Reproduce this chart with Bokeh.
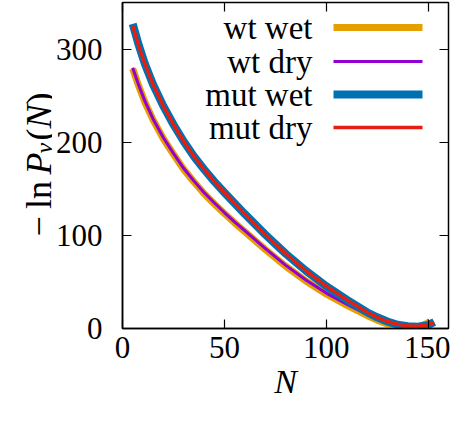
from bokeh.plotting import figure
from bokeh.layouts import row
from bokeh.models import Range1d, FixedTicker, LinearAxis, Label, Arrow
from bokeh.embed import file_html
from bokeh.resources import INLINE
import math

# ---- data ----
N_wt = [5, 8, 11, 15, 20, 25, 30, 35, 40, 45, 50, 55, 60, 70, 80, 90, 100, 110, 120, 125, 130, 135, 140, 145, 150, 151]
wt_wet = [279, 260, 243, 224, 204, 187, 171, 157.5, 145, 134, 123.5, 113.5, 104, 85, 67, 51, 37, 25, 14, 9, 5, 2, 0.5, 1.5, 6, 8]
wt_dry = [280, 261, 244, 225, 205, 188, 172, 158.5, 146, 135, 124.5, 114.5, 105, 86, 68, 52, 38, 26, 15, 10, 6, 3, 1.5, 1.5, 4, 5]

N_mut = [5, 8, 11, 15, 20, 25, 30, 35, 40, 45, 50, 55, 60, 70, 80, 90, 100, 110, 120, 125, 130, 135, 140, 145, 150, 153]
mut_wet = [327, 304, 284, 262, 239, 219, 201, 185, 171, 158, 146, 134.5, 123, 101, 80.5, 62, 45.5, 31, 17.5, 12, 7.5, 4, 2.5, 2, 3.5, 7]
mut_dry = [325, 303, 284, 262, 239, 219, 201, 185, 171, 158, 146, 134.5, 123, 101, 80.5, 62, 45.5, 31, 17.5, 12, 7.5, 4.5, 3, 2.5, 4, 6.5]

x_ticks = [0, 50, 100, 150]
y_ticks = [0, 100, 200, 300]

names = ["wt wet", "wt dry", "mut wet", "mut dry"]
colors = ["#E69F00", "#9400D3", "#0072B2", "#E51E10"]
widths = [7, 3, 8, 3.5]

# y-axis label  "− ln P_v(N)"  built from pieces
ylab_text = ["\u2212", "ln", "P", "v", "(", "N", ")"]
ylab_style = ["normal", "normal", "italic", "italic", "normal", "italic", "normal"]
ylab_size = ["36px", "36px", "36px", "24px", "36px", "36px", "36px"]
ylab_pos = [92, 119.5, 154, 175, 188, 200, 224]   # along the label, px above frame bottom
ylab_base = [38, 38, 38, 43, 38, 38, 38]          # baseline, px from left edge

FONT = "Liberation Serif"
H = 407
LW = 52
FB = 79      # bottom border of the plot
FT = 2       # top border of the plot

# ---- narrow panel holding the rotated y label (its frame is aligned with the plot's) ----
yl = figure(width=LW, height=H, output_backend="svg", toolbar_location=None,
            x_range=Range1d(0, LW), y_range=Range1d(0, H - FB - FT), min_border=0,
            x_axis_location=None, y_axis_location=None,
            background_fill_color="white", border_fill_color="white")
yl.grid.visible = False
yl.outline_line_color = None
for t, st, sz, pos, base in zip(ylab_text, ylab_style, ylab_size, ylab_pos, ylab_base):
    yl.add_layout(Label(x=base, y=pos, text=t, angle=math.pi / 2,
                        text_font=FONT, text_font_style=st, text_font_size=sz,
                        text_align="left", text_baseline="alphabetic", text_color="black"))

# ---- main plot ----
p = figure(width=450 - LW, height=H, output_backend="svg", toolbar_location=None,
           x_range=Range1d(0, 160), y_range=Range1d(0, 350),
           min_border_left=122 - LW, min_border_right=2, min_border_top=FT, min_border_bottom=FB,
           background_fill_color="white", border_fill_color="white")
p.grid.visible = False
p.outline_line_color = "black"
p.outline_line_width = 1.5

for ax, ticks in ((p.xaxis[0], x_ticks), (p.yaxis[0], y_ticks)):
    ax.ticker = FixedTicker(ticks=ticks)
    ax.major_tick_in = 9
    ax.major_tick_out = 0
    ax.minor_tick_line_color = None
    ax.major_tick_line_color = "black"
    ax.major_tick_line_width = 1.2
    ax.axis_line_color = "black"
    ax.axis_line_width = 1.5
    ax.major_label_text_font = FONT
    ax.major_label_text_font_size = "31px"
    ax.major_label_text_color = "black"
p.xaxis[0].major_label_standoff = 8
p.yaxis[0].major_label_standoff = 20
p.xaxis[0].axis_label = "N"
p.xaxis[0].axis_label_text_font = FONT
p.xaxis[0].axis_label_text_font_style = "italic"
p.xaxis[0].axis_label_text_font_size = "34px"
p.xaxis[0].axis_label_text_color = "black"
p.xaxis[0].axis_label_standoff = 2

# mirrored ticks on top and right (no labels)
top = LinearAxis(ticker=FixedTicker(ticks=x_ticks), major_tick_in=9, major_tick_out=0,
                 minor_tick_line_color=None, major_label_text_font_size="0px",
                 major_label_text_color=None,
                 major_label_standoff=0, axis_line_color=None, major_tick_line_width=1.2)
right = LinearAxis(ticker=FixedTicker(ticks=y_ticks), major_tick_in=9, major_tick_out=0,
                   minor_tick_line_color=None, major_label_text_font_size="0px",
                   major_label_text_color=None,
                   major_label_standoff=0, axis_line_color=None, major_tick_line_width=1.2)
p.add_layout(top, "above")
p.add_layout(right, "right")

series = [(N_wt, wt_wet), (N_wt, wt_dry), (N_mut, mut_wet), (N_mut, mut_dry)]
for (xs, ys), c, w in zip(series, colors, widths):
    p.line(xs, ys, line_color=c, line_width=w, line_join="round")

# legend (gnuplot style: label then sample), positions relative to the frame
row_y = [301, 267, 234, 201]
for name, c, w, yy in zip(names, colors, widths, row_y):
    p.add_layout(Label(x=190, y=yy, x_units="screen", y_units="screen", text=name,
                       text_font=FONT, text_font_size="33px", text_align="right",
                       text_baseline="middle", text_color="black"))
    p.add_layout(Arrow(end=None, x_start=211, y_start=yy, x_end=300, y_end=yy,
                       start_units="screen", end_units="screen",
                       line_color=c, line_width=w))

layout = row(yl, p, spacing=0)
open("out.html", "w").write(file_html(layout, INLINE))
